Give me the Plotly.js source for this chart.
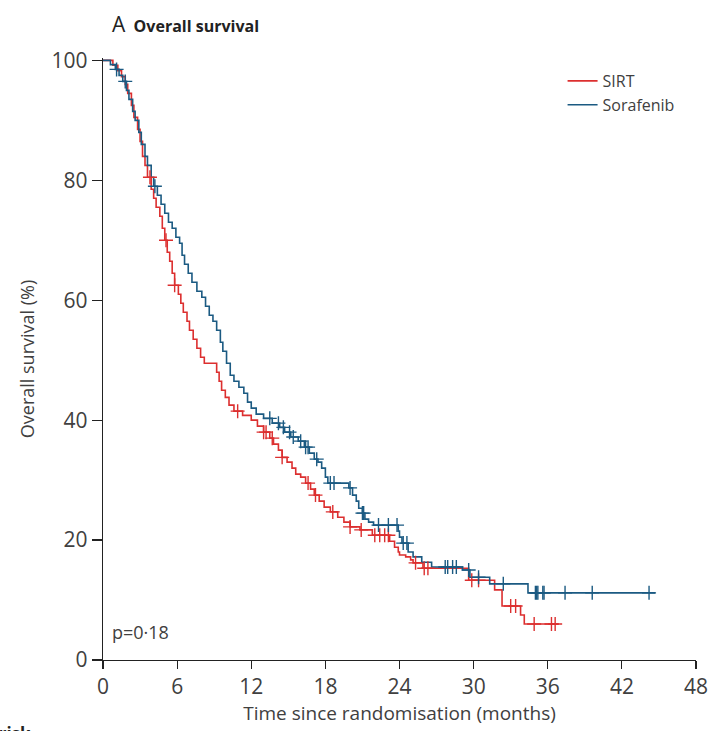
<!DOCTYPE html>
<html>
<head>
<meta charset="utf-8">
<script src="https://cdn.plot.ly/plotly-3.0.1.min.js"></script>
<style>
  html, body { margin: 0; padding: 0; background: #fff; }
  #chart { width: 709px; height: 731px; }
</style>
</head>
<body>
<div id="chart"></div>
<script>
// Kaplan–Meier step data: event times (months) and survival (%) after each step
const sirtTime = [0, 0.8, 1.2, 1.5, 1.8, 2.0, 2.3, 2.5, 2.8, 3.0, 3.2, 3.4, 3.6, 3.9, 4.1, 4.3, 4.6, 4.8, 5.0, 5.2, 5.4, 5.6, 5.8, 6.1, 6.3, 6.5, 6.8, 7.0, 7.3, 7.6, 7.9, 8.2, 9.2, 9.4, 9.6, 9.9, 10.2, 10.6, 11.3, 12.0, 12.5, 13.0, 13.5, 13.8, 14.2, 14.5, 14.9, 15.3, 15.6, 16.0, 16.4, 16.8, 17.1, 17.5, 17.9, 18.4, 19.0, 19.5, 20.0, 20.8, 21.8, 23.2, 23.6, 23.9, 24.0, 24.5, 24.9, 25.1, 25.9, 29.6, 31.7, 32.3, 33.8, 34.1, 36.9];
const sirtSurv = [100, 99.2, 98.3, 97.3, 96, 94.5, 92.5, 90.5, 88.5, 86.5, 84, 82.5, 80.5, 78.5, 77, 75.5, 74, 72, 70, 68, 66.5, 64.5, 62.5, 61, 59.5, 58, 56.5, 55, 53.5, 52, 50.5, 49.5, 48, 46.5, 45, 43.8, 42.5, 41.5, 40.8, 40, 39, 38, 37, 36, 35, 33.8, 33, 32, 31, 30.5, 29.5, 28.5, 27.5, 26.5, 25.5, 24.7, 23.8, 23, 22.2, 21.7, 20.8, 19.8, 18.8, 18, 17.5, 17.2, 16.7, 16.2, 15.3, 13.3, 11.7, 9.0, 7.5, 6.0, 6.0];
const sirtCensor = [3.8, 5.1, 5.8, 10.9, 13.0, 13.2, 13.7, 14.5, 16.6, 17.2, 18.6, 20.0, 20.9, 22.0, 22.4, 22.8, 23.1, 25.3, 26.0, 26.3, 29.85, 30.4, 33.0, 33.4, 34.9, 36.3, 36.6];

const soraTime = [0, 0.6, 1.0, 1.3, 1.6, 1.9, 2.1, 2.4, 2.6, 2.9, 3.1, 3.4, 3.6, 3.9, 4.1, 4.4, 4.7, 5.0, 5.3, 5.6, 5.9, 6.2, 6.4, 6.6, 6.9, 7.2, 7.6, 8.0, 8.3, 8.6, 8.9, 9.2, 9.5, 9.7, 10.0, 10.3, 10.6, 11.0, 11.4, 11.7, 12.0, 12.4, 13.0, 13.7, 14.3, 14.7, 15.2, 15.8, 16.3, 16.7, 17.1, 17.4, 17.7, 18.0, 18.2, 19.9, 20.2, 20.5, 20.7, 21.0, 21.2, 21.5, 21.9, 23.9, 24.0, 24.2, 24.7, 25.1, 25.8, 26.6, 29.1, 29.7, 31.3, 34.4, 44.7];
const soraSurv = [100, 99.3, 98.5, 97.5, 96.5, 95, 93.5, 91.5, 90, 88, 86, 84, 82.5, 80.5, 79, 77.5, 76, 74.5, 73, 72, 70.5, 69.5, 67.5, 66, 64.5, 63, 61.5, 60.5, 59, 57.5, 56.5, 55, 53, 51.5, 49.5, 47.5, 46.5, 45.5, 44.5, 43, 42, 41, 40.3, 39.5, 38.8, 38, 37.2, 36.5, 35.5, 34.5, 33.5, 33, 32, 30.5, 29.5, 28.7, 27.5, 26.5, 25.3, 24.5, 23.5, 23, 22.5, 21.5, 20.5, 19.5, 18, 17.2, 16.3, 15.5, 15, 13.8, 12.7, 11.2, 11.2];
const soraCensor = [1.1, 1.8, 4.2, 13.5, 14.2, 14.6, 15.1, 15.4, 16.0, 16.4, 16.6, 17.3, 18.4, 18.7, 20.0, 21.0, 21.1, 22.3, 23.1, 23.8, 24.3, 24.6, 27.7, 27.9, 28.3, 28.6, 29.6, 30.4, 32.4, 35.0, 35.1, 35.2, 35.6, 35.7, 37.4, 39.6, 44.2];

const xTicks = [0, 6, 12, 18, 24, 30, 36, 42, 48];
const yTicks = [0, 20, 40, 60, 80, 100];

const RED = '#dc2f2f';
const BLUE = '#1b5a82';
const TEXT = '#404040';
const FONT = 'Open Sans, Noto Sans, sans-serif';

// survival value of a step curve at time t (for placing censor ticks on the curve)
function stepAt(times, surv, t) {
  let v = surv[0];
  for (let i = 0; i < times.length; i++) {
    if (times[i] <= t) v = surv[i]; else break;
  }
  return v;
}

function curve(times, surv, name, color) {
  return {
    x: times, y: surv, name: name, type: 'scatter', mode: 'lines',
    line: { shape: 'hv', color: color, width: 1.6 },
    hoverinfo: 'skip'
  };
}

function censors(times, surv, marks, color) {
  return {
    x: marks, y: marks.map(t => stepAt(times, surv, t)),
    type: 'scatter', mode: 'markers', showlegend: false, cliponaxis: false,
    marker: { symbol: 'cross-thin-open', size: 10, color: color, line: { color: color, width: 1.4 } },
    hoverinfo: 'skip'
  };
}

const data = [
  curve(sirtTime, sirtSurv, 'SIRT', RED),
  curve(soraTime, soraSurv, 'Sorafenib', BLUE),
  censors(sirtTime, sirtSurv, sirtCensor, RED),
  censors(soraTime, soraSurv, soraCensor, BLUE)
];

const layout = {
  width: 709, height: 731,
  margin: { l: 103, r: 13, t: 58, b: 71 },
  paper_bgcolor: '#fff', plot_bgcolor: '#fff',
  font: { family: FONT, size: 18, color: TEXT },
  showlegend: true,
  legend: {
    x: 0.775, y: 0.99, xanchor: 'left', yanchor: 'top',
    bgcolor: 'rgba(0,0,0,0)', font: { family: FONT, size: 16, color: TEXT },
    tracegroupgap: 0, itemwidth: 30
  },
  xaxis: {
    range: [0, 48], tickvals: xTicks, ticktext: xTicks.map(String),
    ticks: 'outside', ticklen: 8, tickwidth: 1.2, tickcolor: '#222',
    showline: true, linecolor: '#222', linewidth: 1.2,
    showgrid: false, zeroline: false,
    tickfont: { family: FONT, size: 21, color: TEXT },
    title: { text: 'Time since randomisation (months)', font: { family: FONT, size: 19, color: TEXT }, standoff: 4 }
  },
  yaxis: {
    range: [0, 100.4], tickvals: yTicks, ticktext: yTicks.map(String),
    ticks: 'outside', ticklen: 10, tickwidth: 1.2, tickcolor: '#222',
    showline: true, linecolor: '#222', linewidth: 1.2,
    showgrid: false, zeroline: false,
    tickfont: { family: FONT, size: 21, color: TEXT },
    title: { text: 'Overall survival (%)', font: { family: FONT, size: 18, color: TEXT }, standoff: 12 }
  },
  annotations: [
    {
      xref: 'paper', yref: 'paper', x: 0.012, y: 1.057, xanchor: 'left', yanchor: 'middle',
      text: '<span style="font-size:21px">A</span>  <b>Overall survival</b>', showarrow: false,
      font: { family: FONT, size: 16, color: '#222' }
    },
    {
      xref: 'x', yref: 'y', x: 0.6, y: 4.6, xanchor: 'left', yanchor: 'middle',
      text: 'p=0·18', showarrow: false,
      font: { family: FONT, size: 18, color: TEXT }
    },
    {
      xref: 'paper', yref: 'paper', x: -0.118, y: -0.1, xanchor: 'right', yanchor: 'top',
      text: '<b>Number at risk</b>', showarrow: false,
      font: { family: FONT, size: 17, color: '#222' }
    }
  ]
};

Plotly.newPlot('chart', data, layout, { displayModeBar: false, staticPlot: true });
</script>
</body>
</html>
